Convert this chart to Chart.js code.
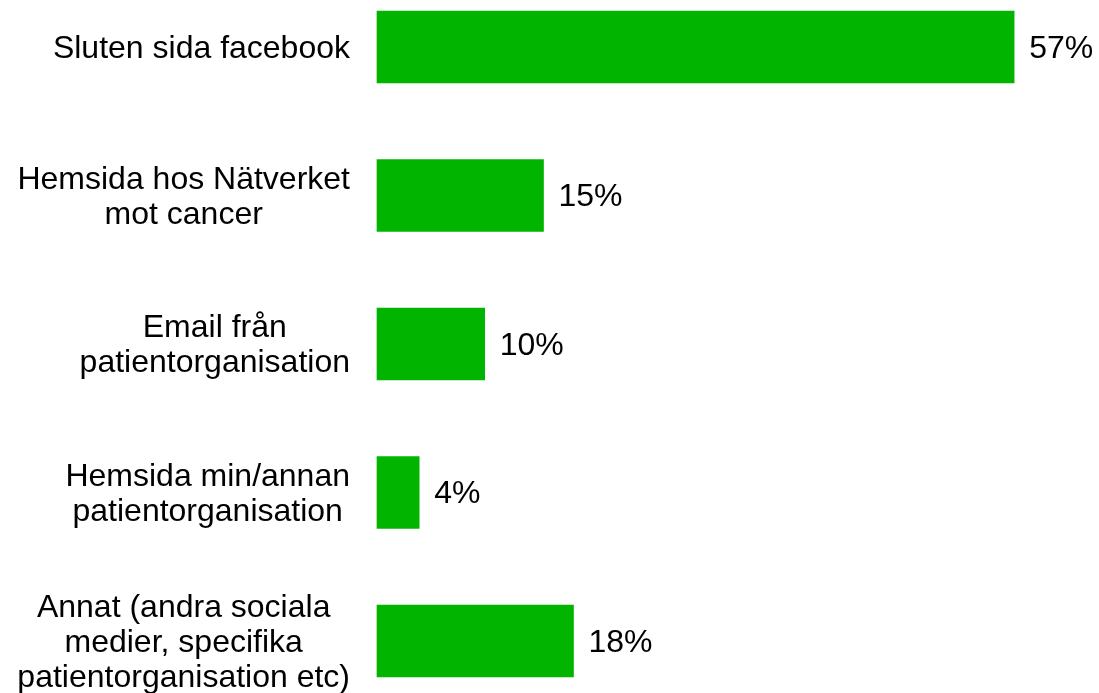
<!DOCTYPE html>
<html>
<head>
<meta charset="utf-8">
<script src="https://cdn.jsdelivr.net/npm/chart.js@4/dist/chart.umd.min.js"></script>
<style>
  html, body { margin: 0; padding: 0; background: #fff; overflow: hidden; }
  #wrap { width: 1099px; height: 693px; position: relative; }
</style>
</head>
<body>
<div id="wrap"><canvas id="myChart"></canvas></div>
<script>
// categories (one array of lines per label)
var categories = [
  ["Sluten sida facebook"],
  ["Hemsida hos Nätverket", "mot cancer"],
  ["Email från", "patientorganisation"],
  ["Hemsida min/annan", "patientorganisation"],
  ["Annat (andra sociala", "medier, specifika", "patientorganisation etc)"]
];
// share in percent
var values = [57.4, 15.0, 9.7, 3.8, 17.7];
// labels printed next to the bars
var valueLabels = ["57%", "15%", "10%", "4%", "18%"];

var barColor = "#00b400";
var font = "32px 'Liberation Sans', Arial, sans-serif";

// draws the left labels: block right-aligned, lines centered inside the block
var sideLabels = {
  id: "sideLabels",
  afterDraw: function (chart) {
    var ctx = chart.ctx;
    var y = chart.scales.y;
    var lineH = 35;
    ctx.save();
    ctx.font = font;
    ctx.fillStyle = "#000";
    ctx.textBaseline = "middle";
    ctx.textAlign = "center";
    for (var i = 0; i < categories.length; i++) {
      var lines = categories[i];
      var w = 0;
      for (var j = 0; j < lines.length; j++) {
        w = Math.max(w, ctx.measureText(lines[j]).width);
      }
      var cx = 350 - w / 2;
      var cy = y.getPixelForTick(i) + 2;
      var start = cy - (lines.length - 1) * lineH / 2;
      for (var j = 0; j < lines.length; j++) {
        ctx.fillText(lines[j], cx, start + j * lineH);
      }
    }
    ctx.restore();
  }
};

// value labels at the end of each bar
var barLabels = {
  id: "barLabels",
  afterDatasetsDraw: function (chart) {
    var ctx = chart.ctx;
    var meta = chart.getDatasetMeta(0);
    ctx.save();
    ctx.font = font;
    ctx.fillStyle = "#000";
    ctx.textBaseline = "middle";
    ctx.textAlign = "left";
    for (var i = 0; i < meta.data.length; i++) {
      var bar = meta.data[i];
      ctx.fillText(valueLabels[i], bar.x + 15, bar.y + 2);
    }
    ctx.restore();
  }
};

const data = {
  labels: categories,
  datasets: [
    {
      data: values,
      backgroundColor: barColor,
      borderWidth: 0,
      barThickness: 72,
      clip: false,
    },
  ],
};

const config = {
  type: "bar",
  data: data,
  options: {
    indexAxis: "y",
    responsive: true,
    maintainAspectRatio: false,
    animation: false,
    layout: {
      padding: { top: 47, bottom: 52, left: 0, right: 56 }
    },
    plugins: {
      legend: false,
      tooltip: { enabled: false }
    },
    scales: {
      x: {
        display: false,
        min: 0,
        max: 60
      },
      y: {
        offset: false,
        grid: { display: false },
        border: { display: false },
        ticks: { display: false },
        afterFit: function (scale) { scale.width = 377; }
      }
    }
  },
  plugins: [sideLabels, barLabels]
};

const myChart = new Chart(document.getElementById("myChart"), config);
</script>
</body>
</html>
